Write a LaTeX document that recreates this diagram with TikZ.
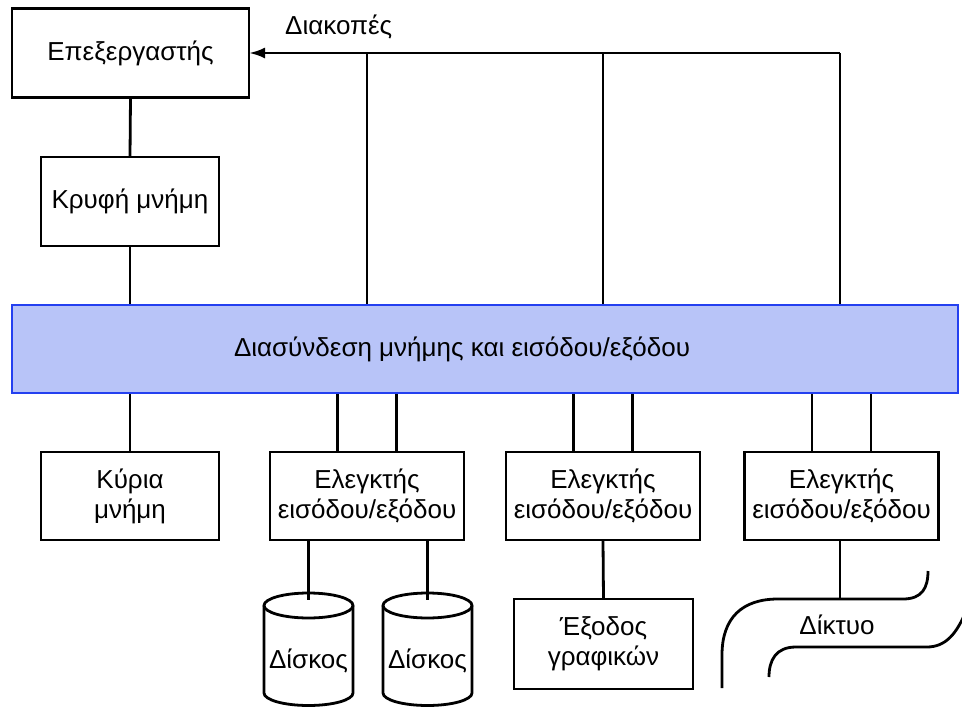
\documentclass[tikz,border=0pt]{standalone}
\usepackage{fontspec}
\setmainfont{Liberation Sans}
\usetikzlibrary{arrows.meta}
\definecolor{busfill}{RGB}{184,196,248}
\definecolor{busdraw}{RGB}{36,64,240}
\begin{document}
\begin{tikzpicture}[x=1pt,y=-1pt,
  box/.style={draw=black, line width=2.8pt, rectangle, inner sep=0pt, outer sep=0pt,
    font=\fontsize{26}{30}\selectfont, align=center},
  lbl/.style={font=\fontsize{26}{30}\selectfont, inner sep=0pt, align=center},
  wire/.style={draw=black, line width=2.8pt},
  disk/.style={draw=black, line width=2.8pt},
]
\useasboundingbox (0,0) rectangle (962,707);
\clip (0,0) rectangle (962,707);

% boxes
\node[box, minimum width=237pt, minimum height=89pt] (proc) at (130.5,53) {Επεξεργαστής};
\node[box, minimum width=178pt, minimum height=89pt] (cache) at (130,201.5) {Κρυφή μνήμη};
\node[draw=busdraw, fill=busfill, line width=1.8pt, minimum width=946pt, minimum height=88pt, inner sep=0pt] (bus) at (485,349) {};
\node[lbl] (buslbl) at (462,349) {Διασύνδεση μνήμης και εισόδου/εξόδου};
\node[box, minimum width=178pt, minimum height=88pt] (mem) at (130,496) {Κύρια\\μνήμη};
\node[box, minimum width=194pt, minimum height=88pt] (c1) at (367,496) {Ελεγκτής\\εισόδου/εξόδου};
\node[box, minimum width=194pt, minimum height=88pt] (c2) at (603,496) {Ελεγκτής\\εισόδου/εξόδου};
\node[box, minimum width=194pt, minimum height=88pt] (c3) at (841.5,496) {Ελεγκτής\\εισόδου/εξόδου};
\node[box, minimum width=179pt, minimum height=90pt] (gfx) at (603.5,644) {Έξοδος\\γραφικών};

% interrupt line
\coordinate (i1) at (367,53);
\coordinate (i2) at (603,53);
\coordinate (i3) at (840,53);
\node[lbl, anchor=base west] (irqlbl) at (285,34.5) {Διακοπές};
\draw[wire, -{Latex[length=16pt,width=11pt]}] (i3) -- (proc.east);
\draw[wire] (i1) -- (i1 |- bus.north);
\draw[wire] (i2) -- (i2 |- bus.north);
\draw[wire] (i3) -- (i3 |- bus.north);

% left column
\draw[wire] (proc.south) -- (cache.north);
\draw[wire] (cache.south) -- (cache.south |- bus.north);
\draw[wire] (mem.north) -- (mem.north |- bus.south);

% controller links
\foreach \c in {c1,c2,c3}{
  \draw[wire] ([xshift=-29.5pt]\c.north) -- ([xshift=-29.5pt]\c.north |- bus.south);
  \draw[wire] ([xshift=29.5pt]\c.north) -- ([xshift=29.5pt]\c.north |- bus.south);
}

% disks
\coordinate (d1top) at (308.5,600);
\coordinate (d2top) at (427.5,600);
\draw[wire] (c1.south -| d1top) -- (d1top);
\draw[wire] (c1.south -| d2top) -- (d2top);
\foreach \cx in {308.5,427.5}{
  \draw[disk] (\cx-44.5,605.5) -- (\cx-44.5,693) arc[start angle=180,end angle=360,x radius=44.5pt,y radius=12.5pt] -- (\cx+44.5,605.5);
  \draw[disk] (\cx,605.5) ellipse [x radius=44.5pt, y radius=12.5pt];
}
\node[lbl] (disk1) at (308.5,661) {Δίσκος};
\node[lbl] (disk2) at (427.5,661) {Δίσκος};

% graphics
\draw[wire] (c2.south) -- (gfx.north);

% network
\coordinate (net) at (840,599);
\draw[wire] (c3.south -| net) -- (net);
\draw[wire] (722,688) -- (722,655) .. controls (722,618) and (742,599) .. (778,599) -- (903,599) .. controls (922,599) and (928,588) .. (928,571);
\draw[wire] (769,677) .. controls (769,660) and (776,647) .. (796,647) -- (927,647) .. controls (946,647) and (957,633) .. (966,611);
\node[lbl] (netlbl) at (837,625) {Δίκτυο};
\end{tikzpicture}
\end{document}
